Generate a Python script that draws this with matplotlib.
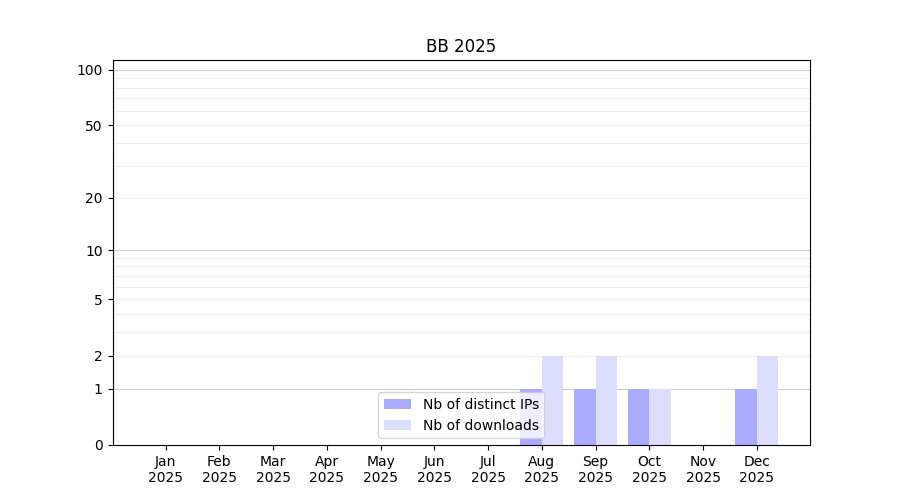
import numpy as np
import matplotlib
matplotlib.use("Agg")
import matplotlib.pyplot as plt

# Monthly data for 2025
months = ["Jan", "Feb", "Mar", "Apr", "May", "Jun",
          "Jul", "Aug", "Sep", "Oct", "Nov", "Dec"]
year = "2025"
distinct_ips = [0, 0, 0, 0, 0, 0, 0, 1, 1, 1, 0, 1]
downloads = [0, 0, 0, 0, 0, 0, 0, 2, 2, 1, 0, 2]
label_ticks = [0, 1, 2, 5, 10, 20, 50, 100]


def fwd(v):
    return np.log10(1 + np.maximum(v, 0))


def inv(v):
    return 10 ** v - 1


def create_bar_plot():
    """Bar chart of distinct IPs and downloads per month."""
    fig, ax = plt.subplots(figsize=(9, 5), dpi=100)
    x = np.arange(len(months))
    width = 0.4

    ax.bar(x - width / 2, distinct_ips, width, color="#aaaaff",
           label="Nb of distinct IPs", zorder=2)
    ax.bar(x + width / 2, downloads, width, color="#ddddff",
           label="Nb of downloads", zorder=2)

    ax.set_yscale("function", functions=(fwd, inv))
    ax.set_ylim(0, 113)

    # grid lines: major decades darker, minor lighter
    for d in [1, 10]:
        for m in range(2, 10):
            ax.axhline(m * d, color="#eeeeee", linewidth=0.8, zorder=0)
    for d in [1, 10, 100]:
        ax.axhline(d, color="#cccccc", linewidth=0.8, zorder=0)

    ax.set_yticks(label_ticks)
    ax.set_yticklabels([str(t) for t in label_ticks])
    ax.yaxis.set_minor_locator(matplotlib.ticker.NullLocator())

    ax.set_xticks(x)
    ax.set_xticklabels([f"{m}\n{year}" for m in months])
    ax.set_title("BB 2025")
    ax.legend(loc="lower center")

    plt.savefig("out.png")


if __name__ == "__main__":
    create_bar_plot()
